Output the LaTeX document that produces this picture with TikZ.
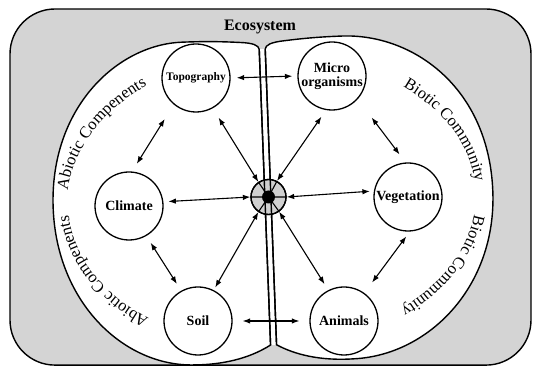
\documentclass[tikz,border=0pt]{standalone}
\usepackage{fontspec}
\setmainfont{Liberation Serif}
\usetikzlibrary{arrows.meta,decorations.text}
\definecolor{bggray}{RGB}{212,212,212}
\definecolor{hubgray}{RGB}{208,208,208}
\newcommand\curvefont{\fontsize{16.5}{16.5}\selectfont}
\newcommand\nodefont{\bfseries\fontsize{14}{15}\selectfont}
\begin{document}
\begin{tikzpicture}[x=1pt,y=1pt,
  circ/.style={circle, draw, line width=1.3pt, minimum size=68pt, inner sep=0pt, fill=white, font=\nodefont, align=center},
  arr/.style={{Latex[length=7.5pt,width=5.5pt]}-{Latex[length=7.5pt,width=5.5pt]}, line width=1.1pt},
  bound/.style={line width=1.4pt},
  curvetext/.style={decorate, decoration={text along path, text align=center, text={|\curvefont|#1}}}
]
\useasboundingbox (0,0) rectangle (533,366);
% outer frame
\draw[bound, fill=bggray, rounded corners=45pt] (10,0.9) rectangle (531,357);
\node[font=\bfseries\fontsize{16}{16}\selectfont] (eco) at (260,339) {Ecosystem};
% two halves
\begin{scope}[shift={(268,166)}, rotate=2.2]
  \coordinate (LT) at (-3,151);
  \coordinate (LB) at (-3,-145);
  \coordinate (RT) at (3,151);
  \coordinate (RB) at (3,-145);
  \fill[white] (LT) -- (RT) -- (RB) -- (LB) -- cycle;
  \draw[bound, fill=white] (LT) .. controls (-3.5,155) and (-9,157.5) .. (-22,158.5)
     .. controls (-45,160.5) and (-60,161) .. (-80,161)
     .. controls (-145,161) and (-215,100) .. (-215,0)
     .. controls (-215,-95) and (-150,-161) .. (-80,-162)
     .. controls (-45,-163) and (-20,-155) .. (LB) -- cycle;
  \draw[bound, fill=white] (RT) .. controls (3.5,155) and (9,157.5) .. (22,158.5)
     .. controls (45,160.5) and (60,161) .. (80,161)
     .. controls (150,161) and (225,105) .. (225,0)
     .. controls (225,-95) and (155,-161) .. (80,-162)
     .. controls (45,-163) and (20,-155) .. (RB) -- cycle;
  \path[curvetext={Abiotic Compenents}] (197:201 and 146) arc[start angle=197, end angle=107, x radius=201, y radius=146];
  \path[curvetext={Abiotic Compenents}] (250:200 and 145) arc[start angle=250, end angle=160, x radius=200, y radius=145];
  \path[curvetext={Biotic Community}] (68:208 and 145) arc[start angle=68, end angle=-22, x radius=208, y radius=145];
  \path[curvetext={Biotic Community}] (18:208 and 145) arc[start angle=18, end angle=-72, x radius=208, y radius=145];
\end{scope}
% nodes
\node[circ, font=\bfseries\fontsize{11.5}{12}\selectfont] (topo) at (196,288) {Topography};
\node[circ] (micro) at (332,290) {Micro\\[-1pt]organisms};
\node[circ] (clim) at (129,160) {Climate};
\node[circ] (veg) at (408,169) {Vegetation};
\node[circ] (soil) at (198,45) {Soil};
\node[circ] (anim) at (344,45) {Animals};
\node[circle, draw, line width=1.3pt, fill=hubgray, minimum size=35pt, inner sep=0pt] (hub) at (268.5,169) {};
% divider lines over hub
\draw[bound] (LT) -- (LB);
\draw[bound] (RT) -- (RB);
% lines inside hub
\draw[line width=1.1pt] (hub.124) -- (hub.center) (hub.62) -- (hub.center)
  (hub.180) -- (hub.center) (hub.0) -- (hub.center)
  (hub.236) -- (hub.center) (hub.306) -- (hub.center);
\draw[line width=1.3pt] (hub) circle (17.5);
\fill (hub.center) circle (6.5);
% arrows
\draw[arr, shorten <=6pt, shorten >=5pt] (topo.east) -- (micro.west);
\draw[arr, shorten <=17pt, shorten >=9pt] (topo.230) -- (clim.85);
\draw[arr, shorten <=11pt] (topo.299) -- (hub.124);
\draw[arr, shorten <=8pt] (micro.260) -- (hub.62);
\draw[arr, shorten <=23pt, shorten >=10pt] (micro.318) -- (veg.94);
\draw[arr, shorten <=5pt] (clim.7) -- (hub.180);
\draw[arr, shorten >=4pt] (hub.0) -- (veg.170);
\draw[arr, shorten <=8pt, shorten >=8pt] (clim.300) -- (soil.119);
\draw[arr, shorten <=3pt] (soil.63) -- (hub.236);
\draw[arr, shorten <=7pt] (anim.117) -- (hub.306);
\draw[arr, shorten <=13pt, shorten >=6pt] (anim.54) -- (veg.273);
\draw[arr, shorten <=10pt, shorten >=10pt] (soil.east) -- (anim.west);
\end{tikzpicture}
\end{document}
